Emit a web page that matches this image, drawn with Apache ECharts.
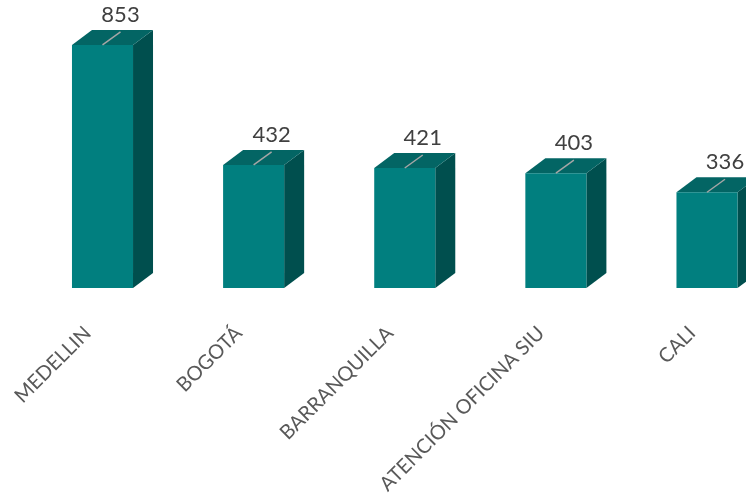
<!DOCTYPE html>
<html>
<head>
<meta charset="utf-8">
<script src="https://cdn.jsdelivr.net/npm/echarts@6/dist/echarts.min.js"></script>
<style>
html,body{margin:0;padding:0;background:#fff;}
#main{width:746px;height:493px;}
</style>
</head>
<body>
<div id="main"></div>
<script>
const categories = ['MEDELLIN', 'BOGOTÁ', 'BARRANQUILLA', 'ATENCIÓN OFICINA SIU', 'CALI'];
const values = [853, 432, 421, 403, 336];

const FRONT = '#017f7f', TOP = '#036564', SIDE = '#004f4e';
const DX = 20, DY = 15;

const chart = echarts.init(document.getElementById('main'), null, {renderer: 'canvas'});

function renderItem(params, api) {
  const i = api.value(0);
  const v = api.value(1);
  const top = api.coord([i, v]);
  const base = api.coord([i, 0]);
  const step = api.coord([1, 0])[0] - api.coord([0, 0])[0];
  const w = step * 0.404;
  const x0 = top[0] - w / 2, x1 = top[0] + w / 2;
  const yT = top[1], yB = base[1];
  const cx = top[0];
  return {
    type: 'group',
    children: [
      {type: 'polygon', shape: {points: [[x1, yT], [x1 + DX, yT - DY], [x1 + DX, yB - DY], [x1, yB]]}, style: {fill: SIDE}},
      {type: 'polygon', shape: {points: [[x0, yT], [x0 + DX, yT - DY], [x1 + DX, yT - DY], [x1, yT]]}, style: {fill: TOP}},
      {type: 'rect', shape: {x: x0, y: yT, width: w, height: yB - yT}, style: {fill: FRONT}},
      {type: 'line', shape: {x1: cx, y1: yT, x2: cx + 18, y2: yT - 13}, style: {stroke: '#a6a6a6', lineWidth: 1.5}},
      {type: 'text', x: cx + 18, y: yT - 30, style: {text: String(v), fill: '#404040', font: '22px Lato', align: 'center', verticalAlign: 'middle'}}
    ]
  };
}

chart.setOption({
  animation: false,
  grid: {left: 102.5, right: 39, top: 3, height: 285, containLabel: false, outerBoundsMode: 'none'},
  xAxis: {
    type: 'category',
    data: categories,
    boundaryGap: false,
    axisLine: {show: false},
    axisTick: {show: false},
    axisLabel: {rotate: 45, margin: 27, padding: [0, 21, 0, 0], color: '#595959', fontFamily: 'Lato', fontSize: 20, interval: 0}
  },
  yAxis: {type: 'value', min: 0, max: 1000, show: false, splitLine: {show: false}},
  series: [{
    type: 'custom',
    renderItem: renderItem,
    data: values.map((v, i) => [i, v]),
    clip: false
  }]
});
</script>
</body>
</html>
